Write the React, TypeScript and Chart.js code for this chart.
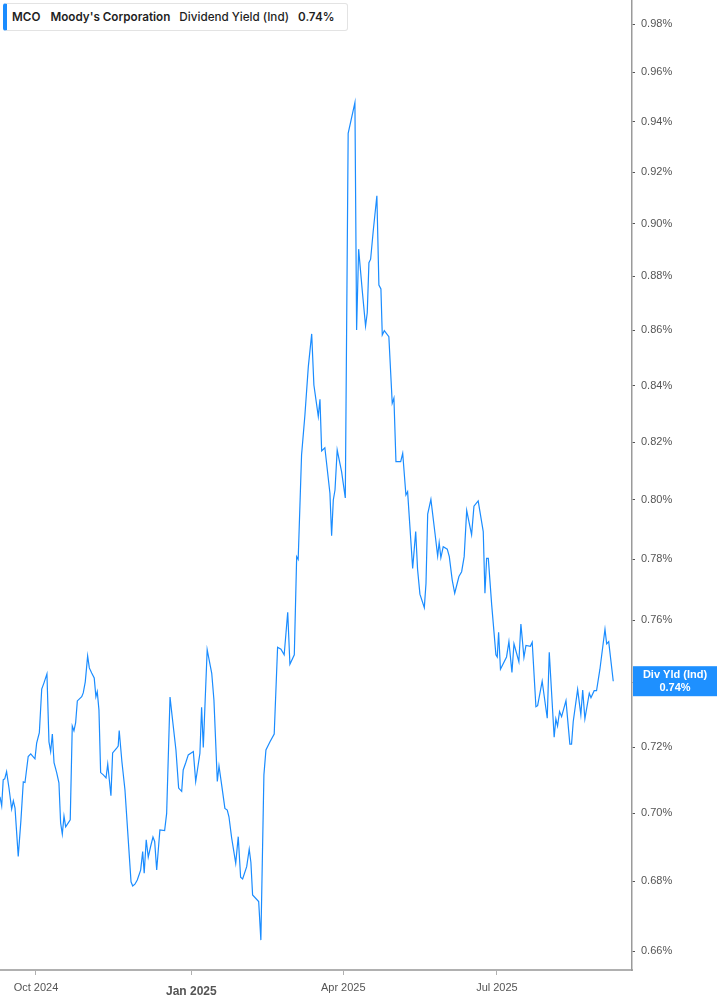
import React, { useEffect, useRef } from 'react';
import { Chart, registerables } from 'chart.js';

Chart.register(...registerables);

// days counted from 2024-10-01 (trading sessions)
const days = [
  -21.3, -20.3, -19.4, -18.5, -17.4, -16.0, -14.4, -13.4, -12.4, -10.5,
  -8.9, -7.5, -6.5, -4.6, -3.1, -0.6, 0.4, 2.0, 3.4, 4.7,
  6.5, 7.7, 8.7, 9.7, 10.7, 12.3, 13.6, 14.6, 15.6, 16.6,
  17.6, 20.3, 21.5, 22.5, 23.5, 24.5, 27.1, 28.0, 29.2, 30.6,
  31.6, 33.0, 34.5, 35.5, 36.3, 37.3, 38.3, 39.9, 41.5, 42.5,
  44.4, 45.4, 47.8, 48.7, 49.3, 50.9, 52.7, 55.3, 56.3, 57.3,
  58.6, 60.0, 62.0, 63.2, 64.1, 65.3, 66.5, 67.9, 69.3, 70.3,
  71.5, 73.4, 76.2, 77.4, 79.4, 81.0, 82.9, 84.5, 86.3, 87.2,
  88.7, 90.2, 93.2, 94.6, 97.1, 98.1, 99.1, 100.3, 101.4, 104.1,
  105.4, 107.4, 108.4, 110.1, 111.9, 113.3, 114.3, 115.9, 118.3, 119.8,
  121.2, 122.4, 124.8, 126.3, 127.3, 128.3, 131.9, 133.2, 135.0, 136.2,
  138.6, 141.1, 143.1, 145.1, 147.0, 149.1, 150.4, 153.0, 154.4, 155.3,
  157.3, 159.3, 161.3, 163.3, 164.6, 167.2, 168.2, 169.2, 171.1, 174.1,
  175.1, 176.1, 177.1, 178.4, 181.0, 183.2, 184.9, 188.9, 189.9, 191.1,
  193.2, 195.2, 196.2, 197.2, 198.2, 199.8, 201.9, 203.1, 204.3, 205.1,
  206.3, 209.0, 211.0, 212.0, 213.2, 216.0, 217.2, 219.1, 220.1, 223.1,
  224.9, 226.0, 227.4, 230.0, 231.0, 232.0, 233.9, 236.3, 237.9, 238.8,
  239.8, 241.2, 243.6, 244.8, 246.5, 248.0, 250.5, 252.1, 253.6, 255.1,
  258.0, 259.4, 261.9, 264.9, 265.9, 266.9, 267.9, 269.9, 272.4, 273.2,
  274.0, 275.1, 278.7, 280.1, 281.9, 283.1, 286.0, 287.2, 289.0, 290.2,
  292.8, 293.9, 296.1, 297.1, 299.8, 302.8, 304.0, 306.9, 307.9, 308.9,
  310.1, 311.3, 313.9, 316.2, 317.2, 318.2, 320.8, 322.7, 323.8, 325.1,
  327.7, 328.7, 330.6, 332.0, 334.0, 337.0, 338.0, 339.2, 341.9,
];

// dividend yield, percent
const divYield = [
  0.7049, 0.7022, 0.7100, 0.7103, 0.7125, 0.7076, 0.7012, 0.7037, 0.7015, 0.6872,
  0.6979, 0.7094, 0.7092, 0.7171, 0.7179, 0.7164, 0.7212, 0.7244, 0.7380, 0.7399,
  0.7428, 0.7216, 0.7186, 0.7240, 0.7152, 0.7121, 0.7091, 0.6971, 0.6938, 0.6991,
  0.6959, 0.6980, 0.7265, 0.7250, 0.7275, 0.7343, 0.7356, 0.7368, 0.7403, 0.7485,
  0.7447, 0.7431, 0.7415, 0.7356, 0.7372, 0.7315, 0.7122, 0.7115, 0.7106, 0.7148,
  0.7052, 0.7182, 0.7197, 0.7203, 0.7251, 0.7155, 0.7070, 0.6872, 0.6798, 0.6786,
  0.6791, 0.6803, 0.6832, 0.6886, 0.6823, 0.6921, 0.6870, 0.6901, 0.6929, 0.6916,
  0.6832, 0.6950, 0.6948, 0.6999, 0.7355, 0.7279, 0.7191, 0.7075, 0.7065, 0.7130,
  0.7152, 0.7176, 0.7186, 0.7095, 0.7181, 0.7323, 0.7199, 0.7357, 0.7505, 0.7430,
  0.7346, 0.7095, 0.7142, 0.7080, 0.7014, 0.7009, 0.6989, 0.6926, 0.6852, 0.6930,
  0.6811, 0.6806, 0.6842, 0.6893, 0.6854, 0.6760, 0.6741, 0.6631, 0.7115, 0.7191,
  0.7216, 0.7240, 0.7513, 0.7507, 0.7489, 0.7626, 0.7459, 0.7489, 0.7809, 0.7800,
  0.8155, 0.8296, 0.8468, 0.8587, 0.8402, 0.8290, 0.8351, 0.8169, 0.8180, 0.8023,
  0.7879, 0.8000, 0.8034, 0.8172, 0.8097, 0.8007, 0.9354, 0.9477, 0.8601, 0.8903,
  0.8750, 0.8616, 0.8665, 0.8852, 0.8865, 0.8976, 0.9108, 0.8768, 0.8753, 0.8583,
  0.8599, 0.8577, 0.8337, 0.8355, 0.8132, 0.8132, 0.8161, 0.8017, 0.8028, 0.7770,
  0.7893, 0.7767, 0.7685, 0.7641, 0.7721, 0.7952, 0.8002, 0.7888, 0.7811, 0.7856,
  0.7805, 0.7842, 0.7834, 0.7809, 0.7732, 0.7688, 0.7743, 0.7759, 0.7809, 0.7964,
  0.7882, 0.7979, 0.7997, 0.7893, 0.7688, 0.7803, 0.7803, 0.7650, 0.7489, 0.7482,
  0.7561, 0.7443, 0.7482, 0.7531, 0.7433, 0.7524, 0.7467, 0.7588, 0.7481, 0.7519,
  0.7516, 0.7529, 0.7325, 0.7328, 0.7405, 0.7289, 0.7497, 0.7230, 0.7287, 0.7265,
  0.7310, 0.7294, 0.7344, 0.7209, 0.7209, 0.7279, 0.7379, 0.7300, 0.7377, 0.7287,
  0.7367, 0.7353, 0.7375, 0.7375, 0.7443, 0.7571, 0.7524, 0.7531, 0.7405,
];

const xTickDays = [0, 92, 182, 273];
const xTickLabels = ['Oct 2024', 'Jan 2025', 'Apr 2025', 'Jul 2025'];
const yTicks = [0.66, 0.68, 0.7, 0.72, 0.74, 0.76, 0.78, 0.8, 0.82, 0.84, 0.86, 0.88, 0.9, 0.92, 0.94, 0.96, 0.98];

const LINE_COLOR = '#1a8cff';
const FONT = '"Liberation Sans", Arial, sans-serif';

// blue value tag on the right axis
const lastValueTag = {
  id: 'lastValueTag',
  afterDraw(chart: any) {
    const { ctx, scales, chartArea } = chart;
    const last = divYield[divYield.length - 1];
    const y = scales.y.getPixelForValue(last);
    const left = chartArea.right + 1;
    const w = chart.width - left;
    ctx.save();
    ctx.fillStyle = '#1e90ff';
    ctx.fillRect(left, y - 15, w, 30);
    ctx.fillStyle = '#fff';
    ctx.font = `bold 11px ${FONT}`;
    ctx.textAlign = 'center';
    ctx.textBaseline = 'middle';
    ctx.fillText('Div Yld (Ind)', left + w / 2, y - 6);
    ctx.fillText(`${last.toFixed(2)}%`, left + w / 2, y + 7);
    ctx.restore();
  },
};

export default function App() {
  const chartRef = useRef<HTMLCanvasElement>(null);
  const chartInstanceRef = useRef<Chart | null>(null);

  useEffect(() => {
    document.body.style.margin = '0';
    if (!chartRef.current) return;
    if (chartInstanceRef.current) chartInstanceRef.current.destroy();

    const ctx = chartRef.current.getContext('2d');
    if (!ctx) return;

    chartInstanceRef.current = new Chart(ctx, {
      type: 'line',
      data: {
        datasets: [
          {
            label: 'Dividend Yield (Ind)',
            data: days.map((d, i) => ({ x: d, y: divYield[i] })),
            borderColor: LINE_COLOR,
            borderWidth: 1.2,
            pointRadius: 0,
            tension: 0,
            fill: false,
          },
        ],
      },
      options: {
        animation: false,
        responsive: true,
        maintainAspectRatio: false,
        layout: { padding: 0 },
        plugins: {
          legend: { display: false },
          tooltip: { enabled: false },
        },
        scales: {
          x: {
            type: 'linear',
            position: 'bottom',
            min: -21.3,
            max: 353,
            grid: { drawOnChartArea: false, drawTicks: true, tickLength: 5, color: '#b0b0b0' },
            border: { display: true, color: '#b0b0b0', width: 2 },
            afterBuildTicks: (axis: any) => {
              axis.ticks = xTickDays.map(v => ({ value: v }));
            },
            afterFit: (axis: any) => {
              axis.height = 35;
              axis.paddingLeft = 0;
              axis.paddingRight = 0;
            },
            ticks: {
              autoSkip: false,
              maxRotation: 0,
              padding: 6,
              color: '#555',
              font: (c: any) =>
                c.tick && c.tick.value === 92
                  ? { family: FONT, size: 12, weight: 'bold', lineHeight: 1.8 }
                  : { family: FONT, size: 11 },
              callback: (value: any) => xTickLabels[xTickDays.indexOf(value)] ?? '',
            },
          },
          y: {
            type: 'logarithmic',
            position: 'right',
            min: 0.6547,
            max: 0.9901,
            grid: { drawOnChartArea: false, drawTicks: true, tickLength: 3, color: '#555' },
            border: { display: true, color: '#9a9a9a', width: 1.5 },
            afterBuildTicks: (axis: any) => {
              axis.ticks = yTicks.map(v => ({ value: v }));
            },
            afterFit: (axis: any) => {
              axis.width = 85;
              axis.paddingTop = 0;
              axis.paddingBottom = 0;
            },
            ticks: {
              padding: 6,
              color: '#555',
              font: { family: FONT, size: 11 },
              callback: (value: any) => `${Number(value).toFixed(2)}%`,
            },
          },
        },
      },
      plugins: [lastValueTag],
    });

    return () => {
      if (chartInstanceRef.current) {
        chartInstanceRef.current.destroy();
        chartInstanceRef.current = null;
      }
    };
  }, []);

  return (
    <div style={{ position: 'relative', width: 717, height: 1005, background: '#fff' }}>
      <canvas ref={chartRef}></canvas>
      <div
        style={{
          position: 'absolute',
          left: 3,
          top: 3,
          height: 28,
          display: 'flex',
          alignItems: 'center',
          background: '#fff',
          border: '1px solid #e3e3e3',
          borderLeft: '4px solid #1a8cff',
          borderRadius: 3,
          padding: '0 13px 0 5px',
          fontFamily: 'Inter, sans-serif',
          fontSize: 11.7,
          color: '#1f1f1f',
          whiteSpace: 'nowrap',
          boxSizing: 'border-box',
        }}
      >
        <span style={{ fontWeight: 600, marginRight: 10 }}>MCO</span>
        <span style={{ fontWeight: 600, marginRight: 9 }}>Moody's Corporation</span>
        <span style={{ fontWeight: 500, marginRight: 9 }}>Dividend Yield (Ind)</span>
        <span style={{ fontWeight: 600 }}>0.74%</span>
      </div>
    </div>
  );
}
